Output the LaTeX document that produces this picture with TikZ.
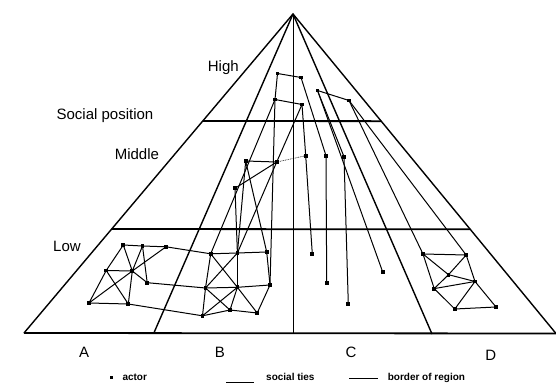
\documentclass[tikz,border=0pt]{standalone}
\usepackage{fontspec}
\setmainfont{Liberation Sans}
\usetikzlibrary{calc}
\begin{document}
\begin{tikzpicture}[x=1pt,y=-1pt,
  actor/.style={rectangle,fill=black,inner sep=0pt,minimum size=3.8pt},
  tie/.style={line width=1.0pt},
  dottie/.style={line width=0.7pt,densely dotted},
  border/.style={line width=1.4pt},
  lvl/.style={line width=1.8pt},
  lab/.style={font=\fontsize{15}{15}\selectfont, anchor=base, inner sep=0pt},
  leg/.style={font=\bfseries\fontsize{10}{10}\selectfont, anchor=base west, inner sep=0pt}]
\useasboundingbox (0,0) rectangle (556,387);

% frame of the pyramid
\coordinate (apex) at (293,14);
\coordinate (bl) at (24,333);
\coordinate (br) at (556,333.5);
\coordinate (ab) at (154.3,332);
\coordinate (cm) at (293,334);
\coordinate (cd) at (432,334);
\coordinate (h1l) at ($(apex)!0.3354!(bl)$);
\coordinate (h1r) at ($(apex)!0.3354!(br)$);
\coordinate (h2l) at ($(apex)!0.674!(bl)$);
\coordinate (h2r) at ($(apex)!0.674!(br)$);

\draw[border] (bl) -- (apex) -- (br);
\draw[lvl] (bl) -- (br);
\draw[lvl] (h1l) -- (h1r);
\draw[lvl] (h2l) -- (h2r);
\draw[border] (apex) -- (ab);
\draw[tie] (apex) -- (cm);
\draw[border] (apex) -- (cd);

% labels
\node[lab] (high) at (223.3,72) {High};
\node[lab] (socpos) at (105,119.5) {Social position};
\node[lab] (middle) at (136.9,160) {Middle};
\node[lab] (low) at (67,251.7) {Low};
\node[lab] (la) at (84.2,357) {A};
\node[lab] (lb) at (219.9,357) {B};
\node[lab] (lc) at (351,357) {C};
\node[lab] (ld) at (490.8,360) {D};

% actors: high
\node[actor] (H1) at (277.5,73.5) {};
\node[actor] (H2) at (301,77.5) {};
\node[actor] (H3) at (317.5,90.5) {};
\node[actor] (H4) at (349,100.5) {};
\node[actor] (H5) at (275,99.5) {};
\node[actor] (H6) at (302,104.5) {};
% middle
\node[actor] (M1) at (245.7,161) {};
\node[actor] (M2) at (276.7,162) {};
\node[actor] (M3) at (235,188.3) {};
\node[actor] (M4) at (305.7,155.7) {};
\node[actor] (M5) at (326,155.7) {};
\node[actor] (M6) at (344,156.7) {};
% low C
\node[actor] (C1) at (312.3,254) {};
\node[actor] (C2) at (326.7,282.7) {};
\node[actor] (C3) at (348.3,304) {};
\node[actor] (C4) at (382.7,272) {};
% low D
\node[actor] (D1) at (423,254) {};
\node[actor] (D2) at (466.2,255) {};
\node[actor] (D3) at (448.5,274.7) {};
\node[actor] (D4) at (475,281.5) {};
\node[actor] (D5) at (434.2,288.6) {};
\node[actor] (D6) at (454.8,309) {};
\node[actor] (D7) at (496,307) {};
% low B
\node[actor] (B1) at (210.7,253.8) {};
\node[actor] (B2) at (237.4,253) {};
\node[actor] (B3) at (266.7,252) {};
\node[actor] (B4) at (205.5,288) {};
\node[actor] (B5) at (237.4,287.3) {};
\node[actor] (B6) at (270,285) {};
\node[actor] (B7) at (202.5,315.8) {};
\node[actor] (B8) at (230,310) {};
\node[actor] (B9) at (257.2,313) {};
% low A
\node[actor] (A1) at (123.3,245) {};
\node[actor] (A2) at (142.5,246) {};
\node[actor] (A3) at (166,246.8) {};
\node[actor] (A4) at (106.2,270.5) {};
\node[actor] (A5) at (132.3,271) {};
\node[actor] (A6) at (147.2,282.7) {};
\node[actor] (A7) at (89,303) {};
\node[actor] (A8) at (128.3,304) {};

% social ties
\foreach \a/\b in {H1/H2,H5/H6,H3/H4,H1/H5,H5/B6,H2/M5,H3/M6,H3/C4,H6/M4,H6/M2,
  H4/D1,H4/D2,H5/B1,
  M1/M2,M3/M2,M1/B2,M1/B3,M3/B2,M2/B2,M4/C1,M5/C2,M6/C3,
  B1/B2,B2/B3,B1/B4,B2/B5,B3/B6,B1/B5,B2/B4,B4/B5,B5/B6,B4/B7,B4/B8,B5/B7,
  B5/B8,B5/B9,B6/B9,B7/B8,B8/B9,
  A3/B1,A6/B4,A8/B7,
  A1/A2,A2/A3,A1/A4,A1/A5,A2/A5,A2/A6,A3/A5,A5/A7,A4/A5,A5/A6,A4/A7,A4/A8,
  A5/A8,A7/A8,
  D1/D2,D1/D3,D1/D5,D2/D3,D3/D5,D2/D4,D3/D4,D5/D4,D5/D6,D4/D6,D6/D7,D4/D7}
  \draw[tie] (\a.center) -- (\b.center);
\draw[dottie] (M2.center) -- (M4.center);

% legend
\node[actor,minimum size=3pt] (legact) at (111,377.5) {};
\node[leg] (tact) at (122.3,380) {actor};
\coordinate (ts) at (226,382);
\coordinate (te) at (253.5,382);
\draw[tie] (ts) -- (te);
\node[leg] (tties) at (266,380) {social ties};
\coordinate (bs) at (349.3,378.5);
\coordinate (be) at (377.7,378.5);
\draw[border] (bs) -- (be);
\node[leg] (tborder) at (387.6,380) {border of region};
\end{tikzpicture}
\end{document}
